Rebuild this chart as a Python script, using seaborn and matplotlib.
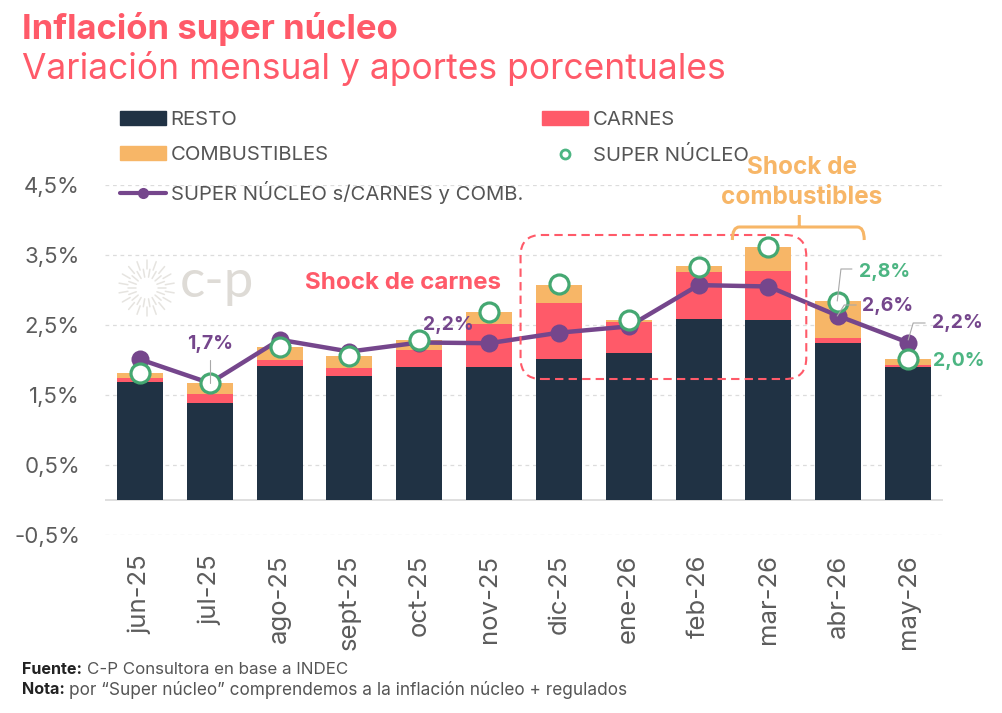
import numpy as np
import pandas as pd
import matplotlib
matplotlib.use("Agg")
import matplotlib.pyplot as plt
import seaborn as sns
from matplotlib.lines import Line2D
from matplotlib.patches import FancyBboxPatch, Patch, PathPatch
from matplotlib.path import Path

meses = ["jun-25", "jul-25", "ago-25", "sept-25", "oct-25", "nov-25",
         "dic-25", "ene-26", "feb-26", "mar-26", "abr-26", "may-26"]
resto = [1.68, 1.38, 1.91, 1.77, 1.90, 1.90, 2.02, 2.10, 2.59, 2.57, 2.24, 1.90]
carnes = [0.07, 0.14, 0.09, 0.11, 0.25, 0.62, 0.79, 0.44, 0.67, 0.70, 0.07, 0.03]
combustibles = [0.07, 0.15, 0.18, 0.18, 0.14, 0.16, 0.26, 0.03, 0.08, 0.34, 0.53, 0.09]
super_nucleo = [1.82, 1.67, 2.19, 2.06, 2.29, 2.69, 3.09, 2.57, 3.33, 3.62, 2.83, 2.01]
sin_carnes_comb = [2.01, 1.67, 2.29, 2.12, 2.25, 2.24, 2.39, 2.48, 3.07, 3.05, 2.63, 2.25]
y_ticks = [-0.5, 0.5, 1.5, 2.5, 3.5, 4.5]
y_labels = ["-0,5%", "0,5%", "1,5%", "2,5%", "3,5%", "4,5%"]

NAVY = "#203244"
RED = "#ff5a69"
ORANGE = "#f7b667"
GREEN = "#4cb582"
RING = "#45a872"
PURPLE = "#75468c"
TEXT = "#555555"
FONT = "Inter"

sns.set_theme(style="white")
plt.rcParams["font.family"] = [FONT, "DejaVu Sans"]

W, H = 1003, 713
fig = plt.figure(figsize=(W / 100, H / 100), dpi=100)
ax = fig.add_axes([105 / W, 1 - 535 / H, 838 / W, 350 / H])


def fx(x):
    return x / W


def fy(y):
    return 1 - y / H


def dx(x):
    # pixel of the picture to bar position
    return (x - 140) / 69.9


def dy(y):
    return (500 - y) / 70


df = pd.DataFrame({"mes": meses, "resto": resto, "carnes": carnes, "comb": combustibles,
                   "super": super_nucleo, "sin": sin_carnes_comb})
base_carnes = df["resto"]
base_comb = df["resto"] + df["carnes"]

bar_kw = dict(width=0.66, saturation=1, linewidth=0, zorder=3, ax=ax)
sns.barplot(data=df, x="mes", y="resto", color=NAVY, **bar_kw)
sns.barplot(data=df, x="mes", y="carnes", bottom=base_carnes, color=RED, **bar_kw)
sns.barplot(data=df, x="mes", y="comb", bottom=base_comb, color=ORANGE, **bar_kw)
sns.lineplot(data=df, x="mes", y="sin", color=PURPLE, lw=3.2, marker="o", markersize=13,
             markeredgewidth=0, sort=False, zorder=4, ax=ax)
sns.scatterplot(data=df, x="mes", y="super", s=187, color="white", edgecolor=RING, linewidth=2.3, zorder=5, ax=ax)

ax.set_xlim(-0.5, 11.5)
ax.set_ylim(-0.5, 4.5)
ax.set_xlabel("")
ax.set_ylabel("")
ax.set_yticks(y_ticks)
ax.set_yticklabels(y_labels)
ax.set_xticks(range(len(meses)))
ax.set_xticklabels(meses, rotation=90)
ax.tick_params(axis="y", length=0, pad=18, labelsize=16, labelcolor="#5c5c5c")
ax.tick_params(axis="x", length=0, pad=14, labelsize=18.5, labelcolor="#5c5c5c")
ax.grid(axis="y", color="#dcdcdc", ls=(0, (3, 3)), lw=0.9, zorder=0)
ax.set_axisbelow(True)
ax.axhline(0, color="#d9d9d9", lw=1.2, zorder=1)
sns.despine(ax=ax, left=True, bottom=True)

# watermark
cx, cy = 146.7, 288
for i, ang in enumerate(np.linspace(0, 2 * np.pi, 36, endpoint=False)):
    r0, r1 = (11, 19) if i % 2 == 0 else (19, 28)
    ax.plot([dx(cx + r0 * np.cos(ang)), dx(cx + r1 * np.cos(ang))],
            [dy(cy + r0 * np.sin(ang)), dy(cy + r1 * np.sin(ang))],
            color="#e6e4e0", lw=1.1, zorder=1)
fig.text(fx(217), fy(282), "c-p", color="#dedbd6", fontsize=38, ha="center", va="center",
         family=["Lato", "DejaVu Sans"])

# shock de carnes box
ax.add_patch(FancyBboxPatch((dx(521), dy(379)), dx(807) - dx(521), dy(235) - dy(379),
                            boxstyle="round,pad=0,rounding_size=0.3", fill=False,
                            edgecolor=RED, ls=(0, (4, 2.5)), lw=1.5, zorder=6, clip_on=False))

# bracket of combustibles
x0, x1, xm = dx(733), dx(865), dx(800)
y0, y1, ytop = dy(240), dy(227), dy(215)
verts = [(x0, y0), (x0, y1), (dx(740), y1), (x1 - (dx(740) - x0), y1), (x1, y1), (x1, y0),
         (xm, y1), (xm, ytop)]
codes = [Path.MOVETO, Path.CURVE3, Path.CURVE3, Path.LINETO, Path.CURVE3, Path.CURVE3,
         Path.MOVETO, Path.LINETO]
ax.add_patch(PathPatch(Path(verts, codes), fill=False, edgecolor=ORANGE, lw=2.2, zorder=6, clip_on=False))

# leader lines
for xs, ys in [([210, 210], [360, 383]),
               ([852.7, 841.7, 838], [269, 269, 301]),
               ([838, 845, 857], [316, 305, 305]),
               ([909, 914, 926], [340, 323, 323])]:
    ax.plot([dx(v) for v in xs], [dy(v) for v in ys], color="#a8a8a8", lw=0.8, zorder=7, clip_on=False)

# value labels
for x, y, s, c in [(210, 344, "1,7%", PURPLE), (448, 325, "2,2%", PURPLE),
                   (885, 272, "2,8%", GREEN), (888, 306, "2,6%", PURPLE),
                   (957, 323, "2,2%", PURPLE), (959, 361, "2,0%", GREEN)]:
    fig.text(fx(x), fy(y), s, color=c, fontsize=14, weight="bold", ha="center", va="center", zorder=8)
fig.text(fx(403), fy(283), "Shock de carnes", color=RED, fontsize=17.4, weight="bold", ha="center", va="center")
fig.text(fx(802), fy(168), "Shock de", color=ORANGE, fontsize=17.5, weight="bold", ha="center", va="center")
fig.text(fx(802), fy(197), "combustibles", color=ORANGE, fontsize=17.5, weight="bold", ha="center", va="center")

# titles and notes
fig.text(fx(22), fy(29), "Inflación super núcleo", color=RED, fontsize=25, weight="bold", va="center")
fig.text(fx(22), fy(68), "Variación mensual y aportes porcentuales", color=RED, fontsize=25.5, va="center")
fig.text(fx(22), fy(670), "Fuente:", color="#222222", fontsize=11.6, weight="bold", va="center")
fig.text(fx(87), fy(670), "C-P Consultora en base a INDEC", color=TEXT, fontsize=12.2, va="center")
fig.text(fx(22), fy(690), "Nota:", color="#222222", fontsize=11.6, weight="bold", va="center")
fig.text(fx(69), fy(690), "por “Super núcleo” comprendemos a la inflación núcleo + regulados", color=TEXT,
         fontsize=12.4, va="center")

handles = [Patch(color=NAVY), Patch(color=ORANGE),
           Line2D([], [], color=PURPLE, lw=3, marker="o", markersize=8, markeredgewidth=0),
           Patch(color=RED),
           Line2D([], [], ls="", marker="o", markersize=6.5, markerfacecolor="white",
                  markeredgecolor=GREEN, markeredgewidth=2)]
labels = ["RESTO", "COMBUSTIBLES", "SUPER NÚCLEO s/CARNES y COMB.", "CARNES", "SUPER NÚCLEO"]
leg = fig.legend(handles, labels, ncol=2, frameon=False, fontsize=14.6, labelcolor=TEXT,
                 loc="upper left", bbox_to_anchor=(120 / W, fy(111)), borderaxespad=0, borderpad=0,
                 handlelength=2.25, handleheight=0.7, handletextpad=0.25, labelspacing=0.84,
                 columnspacing=0.95)

fig.savefig("out.png", dpi=100)
